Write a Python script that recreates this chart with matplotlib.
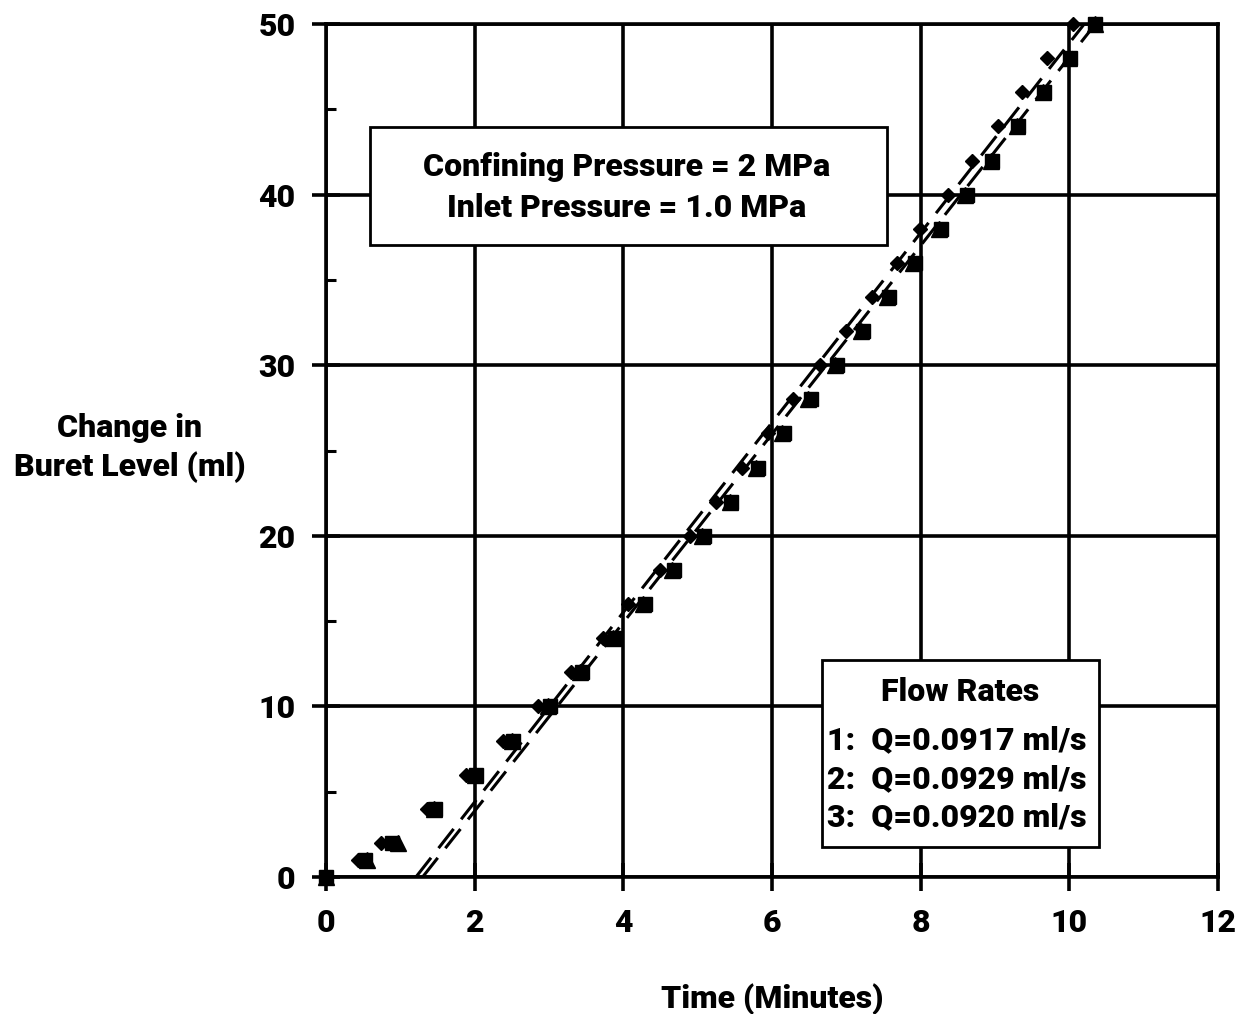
import matplotlib
matplotlib.use("Agg")
import matplotlib.pyplot as plt
from matplotlib.patches import Rectangle
from matplotlib.ticker import MultipleLocator

plt.rcParams['font.family'] = ['Roboto', 'DejaVu Sans']
plt.rcParams['font.weight'] = 'black'

# Buret level readings (ml)
level = [0, 1, 2, 4, 6, 8, 10, 12, 14, 16, 18, 20, 22, 24, 26, 28, 30,
         32, 34, 36, 38, 40, 42, 44, 46, 48, 50]

# Elapsed time (minutes) for each run
time_run1 = [0, 0.43, 0.74, 1.36, 1.88, 2.38, 2.85, 3.30, 3.73, 4.06, 4.49,
             4.90, 5.25, 5.60, 5.95, 6.28, 6.65, 7.00, 7.35, 7.68, 7.99,
             8.37, 8.69, 9.04, 9.36, 9.70, 10.05]
time_run2 = [0, 0.52, 0.89, 1.47, 2.02, 2.52, 3.01, 3.44, 3.89, 4.29, 4.68,
             5.09, 5.45, 5.81, 6.16, 6.52, 6.87, 7.22, 7.57, 7.92, 8.27,
             8.62, 8.96, 9.31, 9.66, 10.01, 10.35]
time_run3 = [0, 0.55, 0.97, 1.45, 2.00, 2.50, 2.98, 3.42, 3.86, 4.27, 4.66,
             5.06, 5.43, 5.78, 6.13, 6.49, 6.85, 7.20, 7.55, 7.90, 8.25,
             8.60, 8.94, 9.29, 9.64, 9.99, 10.34]

# Steady-state fit lines: (time at 0 ml, time at 50 ml)
fit_start = [1.21, 1.30]
fit_end = [10.20, 10.35]
fit_levels = [0, 50]

condition_lines = ["Confining Pressure = 2 MPa", "Inlet Pressure = 1.0 MPa"]
flow_title = "Flow Rates"
flow_labels = ["1:  Q=0.0917 ml/s", "2:  Q=0.0929 ml/s", "3:  Q=0.0920 ml/s"]

fig = plt.figure(figsize=(12.48, 10.14), dpi=100)
ax = fig.add_axes([0.2612, 0.1351, 0.7148, 0.8412])

ax.set_xlim(0, 12)
ax.set_ylim(0, 50)
ax.xaxis.set_major_locator(MultipleLocator(2))
ax.yaxis.set_major_locator(MultipleLocator(10))
ax.yaxis.set_minor_locator(MultipleLocator(5))
ax.grid(True, which='major', color='black', linewidth=2.6, zorder=0)
for s in ax.spines.values():
    s.set_linewidth(2.6)
ax.tick_params(which='major', direction='inout', length=20, width=2.6,
               labelsize=23, pad=12)
ax.tick_params(axis='y', which='minor', direction='in', length=7, width=2.2)
ax.tick_params(axis='x', which='minor', length=0)
for lab in ax.get_xticklabels() + ax.get_yticklabels():
    lab.set_fontweight('black')

for t0, t1 in zip(fit_start, fit_end):
    ax.plot([t0, t1], fit_levels, color='black', linestyle=(0, (8, 4)),
            linewidth=2.2, zorder=3, clip_on=False)

ax.plot(time_run3, level, linestyle='none', marker='^', markersize=11,
        color='black', zorder=4, clip_on=False)
ax.plot(time_run2, level, linestyle='none', marker='s', markersize=10,
        color='black', zorder=4, clip_on=False)
ax.plot(time_run1, level, linestyle='none', marker='D', markersize=7,
        color='black', zorder=5, clip_on=False)

ax.set_xlabel("Time (Minutes)", fontsize=23, fontweight='black', labelpad=33)
fig.text(0.104, 0.558, "Change in\nBuret Level (ml)", ha='center', va='center',
         fontsize=23, fontweight='black', linespacing=1.35)

# Test-condition box
ax.add_patch(Rectangle((0.59, 37.05), 6.96, 6.91, facecolor='white',
                       edgecolor='black', linewidth=2.0, zorder=6))
ax.text(4.04, 41.6, condition_lines[0], ha='center', va='center',
        fontsize=23, fontweight='black', zorder=7)
ax.text(4.04, 39.2, condition_lines[1], ha='center', va='center',
        fontsize=23, fontweight='black', zorder=7)

# Flow-rate box
ax.add_patch(Rectangle((6.67, 1.76), 3.73, 10.96, facecolor='white',
                       edgecolor='black', linewidth=2.0, zorder=6))
ax.text(8.53, 10.85, flow_title, ha='center', va='center',
        fontsize=23, fontweight='black', zorder=7)
for yy, txt in zip([8.05, 5.72, 3.48], flow_labels):
    ax.text(6.74, yy, txt, ha='left', va='center', fontsize=23,
            fontweight='black', zorder=7)

fig.savefig("out.png", dpi=100, facecolor='white')
